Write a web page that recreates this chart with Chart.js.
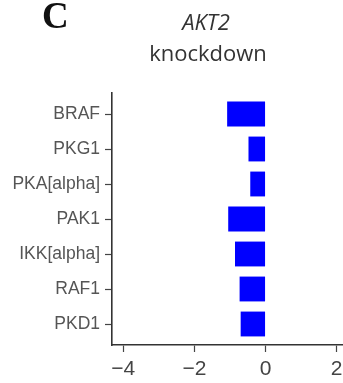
<!DOCTYPE html>
<html>
<head>
<meta charset="utf-8">
<script src="https://cdn.jsdelivr.net/npm/chart.js@4/dist/chart.umd.min.js"></script>
<style>
  html, body { margin: 0; padding: 0; background: #fff; overflow: hidden; }
  #wrap { position: relative; width: 343px; height: 383px; }
  #c { position: absolute; left: 0; top: 0; }
  .t { position: absolute; white-space: nowrap; color: #333; }
</style>
</head>
<body>
<div id="wrap">
  <canvas id="c" width="343" height="383"></canvas>
  <div class="t" style="left:42px; top:-3px; font:bold 37px 'Liberation Serif'; line-height:37px; color:#111;">C</div>
  <div class="t" style="left:106px; width:200px; text-align:center; top:10px; font:italic 22px 'Open Sans'; line-height:22px;">AKT2</div>
  <div class="t" style="left:108px; width:200px; text-align:center; top:41px; font:22px 'Open Sans'; line-height:22px;">knockdown</div>
</div>
<script>
const categories = ['BRAF', 'PKG1', 'PKA[alpha]', 'PAK1', 'IKK[alpha]', 'RAF1', 'PKD1'];
const values = [-1.08, -0.48, -0.43, -1.05, -0.86, -0.73, -0.70];
const xTicks = [-4, -2, 0, 2];

const points = categories.map((c, i) => ({ x: values[i], y: i }));

new Chart(document.getElementById('c'), {
  type: 'bar',
  data: {
    datasets: [{
      data: points,
      backgroundColor: '#0000ff',
      borderWidth: 0,
      barPercentage: 0.71,
      categoryPercentage: 1
    }]
  },
  options: {
    indexAxis: 'y',
    responsive: false,
    animation: false,
    layout: { padding: { top: 93, left: 0, right: 0, bottom: 0 } },
    plugins: { legend: { display: false }, tooltip: { enabled: false }, title: { display: false } },
    scales: {
      x: {
        type: 'linear',
        min: -4.317,
        max: 2.177,
        offset: false,
        afterBuildTicks: s => { s.ticks = xTicks.map(v => ({ value: v })); },
        afterFit: s => { s.height = 38; s.paddingRight = 0; s.paddingLeft = 0; },
        border: { display: true, color: '#333', width: 1.6 },
        grid: { offset: false, drawOnChartArea: false, drawTicks: true, tickLength: 7, tickColor: '#444', tickWidth: 1.2 },
        ticks: {
          color: '#444',
          font: { family: 'Liberation Sans', size: 21 },
          padding: 5,
          maxRotation: 0,
          callback: v => (v < 0 ? '\u2212' + Math.abs(v) : String(v))
        }
      },
      y: {
        type: 'linear',
        reverse: true,
        min: -0.6,
        max: 6.6,
        offset: false,
        afterBuildTicks: s => { s.ticks = categories.map((c, i) => ({ value: i })); },
        afterFit: s => { s.width = 112; s.paddingTop = 0; s.paddingBottom = 0; },
        border: { display: true, color: '#333', width: 1.6 },
        grid: { offset: false, drawOnChartArea: false, drawTicks: true, tickLength: 7, tickColor: '#444', tickWidth: 1.2 },
        ticks: {
          color: '#555',
          font: { family: 'Liberation Sans', size: 17.5 },
          padding: 5,
          callback: v => categories[v] ?? ''
        }
      }
    }
  }
});
</script>
</body>
</html>
